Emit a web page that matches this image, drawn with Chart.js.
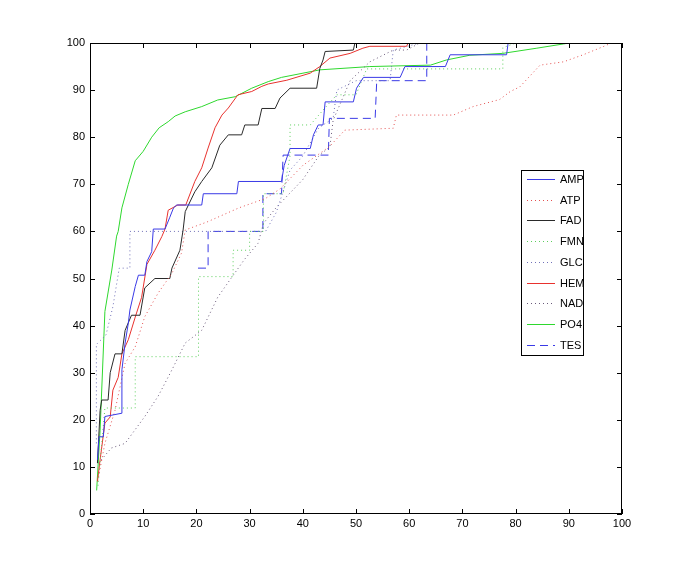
<!DOCTYPE html>
<html>
<head>
<meta charset="utf-8">
<script src="https://cdn.jsdelivr.net/npm/chart.js@4.4.1/dist/chart.umd.min.js"></script>
<style>
  html, body { margin: 0; padding: 0; background: #fff; }
  canvas { display: block; }
</style>
</head>
<body>
<canvas id="grafik" width="685" height="578"></canvas>
<script>
// ================= DATA (x, y) =================
const amp = [[1.4,11.5],[1.7,16.4],[2.5,16.4],[2.8,20.7],[6,21.4],[6,30.6],[6.6,36.3],[7.2,40.5],[7.5,43.3],[8.5,48.3],[9.1,50.7],[10.3,50.7],[10.7,53.6],[11.6,55.7],[11.9,60.5],[14.1,60.5],[15,63],[15.7,65],[16.3,65.6],[21,65.6],[21.3,68],[27.6,68],[27.9,70.6],[36,70.6],[36.5,74],[37.6,77.6],[41.4,77.6],[42,80.5],[42.9,82.6],[43.8,82.6],[44.2,87.5],[49.5,87.5],[50.1,90.4],[51.4,92.7],[58.3,92.7],[59.2,95],[66.8,95],[67.7,97.5],[78.3,97.5],[78.6,100],[100,100]];
const atp = [[1.6,7.9],[2.8,15],[4.7,22],[6.6,32],[8.5,35.5],[10.3,41.9],[12.8,46.9],[15.4,51.1],[17.2,55.4],[17.9,60.3],[22,62],[28,65],[33,67],[35.7,69],[40,74],[45,78],[47.9,81.5],[57,81.9],[57.6,84.7],[68.3,84.7],[72,86.5],[77,88],[79,89.7],[80.8,90.7],[84.6,95.3],[89,96],[92.7,97.5],[96.4,99.2],[98,100],[100,100]];
const fad = [[1.4,10.8],[1.9,22],[2.2,24.2],[3.4,24.2],[3.8,30],[4.7,34],[6,34],[6.6,39],[7.8,42.2],[9.4,42.2],[10.3,48],[12.2,50],[15,50],[15.4,52.2],[16.9,56],[17.5,60.3],[17.9,64.2],[19.7,68.4],[21,70.6],[22.9,73.5],[24.4,78.3],[26,80.5],[28.5,80.5],[29.1,82.6],[31.6,82.6],[32.3,86.1],[34.8,86.1],[35.7,88.3],[37.6,90.4],[42.6,90.4],[43.2,94.6],[43.8,96.4],[44.2,98.2],[49.5,98.5],[49.8,100],[100,100]];
const fmn = [[1.5,6],[2.8,22.5],[8.5,22.5],[8.5,33.4],[20.4,33.4],[20.4,50.4],[26.9,50.4],[26.9,56],[30,56],[30,60],[32.6,60],[32.6,68],[36.3,68],[37.6,76],[37.6,82.6],[41.4,82.6],[44,86],[46.4,89],[50,89],[52,94.5],[77.6,94.5],[77.6,99],[80,100],[100,100]];
const glc = [[1.2,15],[1.2,36],[3,38],[4.3,44],[5.5,52.2],[7.5,52.2],[7.5,60],[33,60],[35,64],[37.6,73],[40,76],[43,82],[45.7,84],[46.4,90],[50,92],[56.4,92],[57,98.5],[62,100],[100,100]];
const hem = [[1.4,6.9],[1.9,11.5],[2.8,19.3],[3.8,20.6],[4.3,26.3],[5.3,29],[6,34],[7.2,37],[8.5,41.8],[9.7,46],[10.7,53],[12.2,56],[13.5,58.9],[14.1,60.5],[14.7,64.5],[16.5,65.6],[18,65.6],[19.7,70.6],[21,73.5],[22.2,77.7],[23.5,82],[24.8,84.7],[26,86.2],[27.8,89],[30.4,89.7],[32.3,90.8],[33.5,91.3],[37,92.1],[41.4,93.6],[43.2,95],[45.1,96.8],[48.9,97.8],[51.3,98.9],[52.6,99.3],[59.5,99.3],[59.8,100],[100,100]];
const nad = [[1.6,10.8],[4,14],[6.6,15],[10.3,20.7],[12.8,25],[15.4,30.6],[17.9,36.3],[21,39],[24,46],[26.3,49.7],[29,54],[31.6,57.5],[32.6,61.7],[35.1,65.2],[40,71],[43,76],[45.1,78],[45.7,83.6],[48.9,92],[52.6,96],[57,98.5],[59.5,98.5],[62,100],[100,100]];
const po4 = [[1.25,5],[1.9,17.8],[2.8,43],[4.1,51.8],[5,59],[5.3,60],[6,65],[7.2,70],[8.5,75],[10,77],[11.6,80],[13,82],[14.7,83.3],[16,84.5],[17.9,85.4],[21,86.5],[24,87.9],[27.3,88.6],[30.4,90.4],[33.5,91.8],[36,92.7],[43.2,94.3],[52.6,95],[64,95.3],[67,96.4],[71.4,97.4],[77.6,97.8],[84,98.9],[89,99.8],[90,100],[100,100]];
const tes = [[20.3,52.2],[22.2,52.2],[22.2,60],[32.5,60],[32.5,68],[36,68],[36.3,76.2],[44.8,76.2],[45,84],[53.6,84],[53.9,92],[63.3,92],[63.3,100],[100,100]];

const xTicks = [0, 10, 20, 30, 40, 50, 60, 70, 80, 90, 100];
const yTicks = [0, 10, 20, 30, 40, 50, 60, 70, 80, 90, 100];

// ================= STYLE =================
const FONT = "'Liberation Sans', Arial, sans-serif";
const DOT = [1, 3];
const DASH = [8, 5];

function seri(label, data, color, dash) {
  return {
    label: label,
    data: data.map(([x, y]) => ({ x, y })),
    borderColor: color,
    borderWidth: 1,
    borderDash: dash || [],
    pointRadius: 0,
    fill: false,
    tension: 0,
  };
}

const datasets = [
  seri("AMP", amp, "#3a3ae6"),
  seri("ATP", atp, "#e45050", DOT),
  seri("FAD", fad, "#2a2a2a"),
  seri("FMN", fmn, "#5ccf5c", DOT),
  seri("GLC", glc, "#7070b8", DOT),
  seri("HEM", hem, "#e8322e"),
  seri("NAD", nad, "#6a5a7a", DOT),
  seri("PO4", po4, "#2ed82e"),
  seri("TES", tes, "#3a3ae6", DASH),
];

// ================= KOTAK + TICK (gaya MATLAB) =================
const kotakPlugin = {
  id: "kotak",
  afterDraw(chart) {
    const { ctx, chartArea: a, scales } = chart;
    ctx.save();
    ctx.strokeStyle = "#000";
    ctx.lineWidth = 1;
    ctx.strokeRect(a.left + 0.5, a.top + 0.5, a.right - a.left - 1, a.bottom - a.top - 1);
    const len = 5;
    ctx.beginPath();
    xTicks.forEach((v) => {
      const px = Math.round(scales.x.getPixelForValue(v)) + 0.5;
      ctx.moveTo(px, a.bottom); ctx.lineTo(px, a.bottom - len);
      ctx.moveTo(px, a.top); ctx.lineTo(px, a.top + len);
    });
    yTicks.forEach((v) => {
      const py = Math.round(scales.y.getPixelForValue(v)) + 0.5;
      ctx.moveTo(a.left, py); ctx.lineTo(a.left + len, py);
      ctx.moveTo(a.right, py); ctx.lineTo(a.right - len, py);
    });
    ctx.stroke();

    // ================= LEGENDA =================
    const lx = 521, ly = 170, lw = 62, step = 20.7;
    const lh = 185;
    ctx.fillStyle = "#fff";
    ctx.fillRect(lx, ly, lw, lh);
    ctx.strokeStyle = "#000";
    ctx.strokeRect(lx + 0.5, ly + 0.5, lw, lh);
    ctx.font = "11px " + FONT;
    ctx.textBaseline = "middle";
    chart.data.datasets.forEach((ds, i) => {
      const y = Math.round(ly + 9 + i * step) + 0.5;
      ctx.beginPath();
      ctx.lineWidth = 1;
      ctx.setLineDash(ds.borderDash);
      ctx.strokeStyle = ds.borderColor;
      ctx.moveTo(lx + 6, y);
      ctx.lineTo(lx + 34, y);
      ctx.stroke();
      ctx.setLineDash([]);
      ctx.fillStyle = "#000";
      ctx.fillText(ds.label, lx + 39, y);
    });
    ctx.restore();
  },
};

// ================= GRAFIK =================
Chart.defaults.font.family = FONT;
Chart.defaults.font.size = 11;
Chart.defaults.color = "#000";

new Chart(document.getElementById("grafik"), {
  type: "line",
  data: { datasets },
  options: {
    responsive: false,
    animation: false,
    devicePixelRatio: 1,
    layout: { padding: { top: 43, right: 63, left: 0, bottom: 0 } },
    plugins: { legend: { display: false }, tooltip: { enabled: false } },
    scales: {
      x: {
        type: "linear",
        min: 0,
        max: 100,
        afterBuildTicks: (s) => { s.ticks = xTicks.map((v) => ({ value: v })); },
        ticks: { padding: 3, maxRotation: 0 },
        grid: { display: false, drawTicks: false, tickLength: 0 },
        border: { display: false },
        afterFit: (s) => { s.height = 64; },
      },
      y: {
        type: "linear",
        min: 0,
        max: 100,
        afterBuildTicks: (s) => { s.ticks = yTicks.map((v) => ({ value: v })); },
        ticks: { padding: 5 },
        grid: { display: false, drawTicks: false, tickLength: 0 },
        border: { display: false },
        afterFit: (s) => { s.width = 90; },
      },
    },
  },
  plugins: [kotakPlugin],
});
</script>
</body>
</html>
